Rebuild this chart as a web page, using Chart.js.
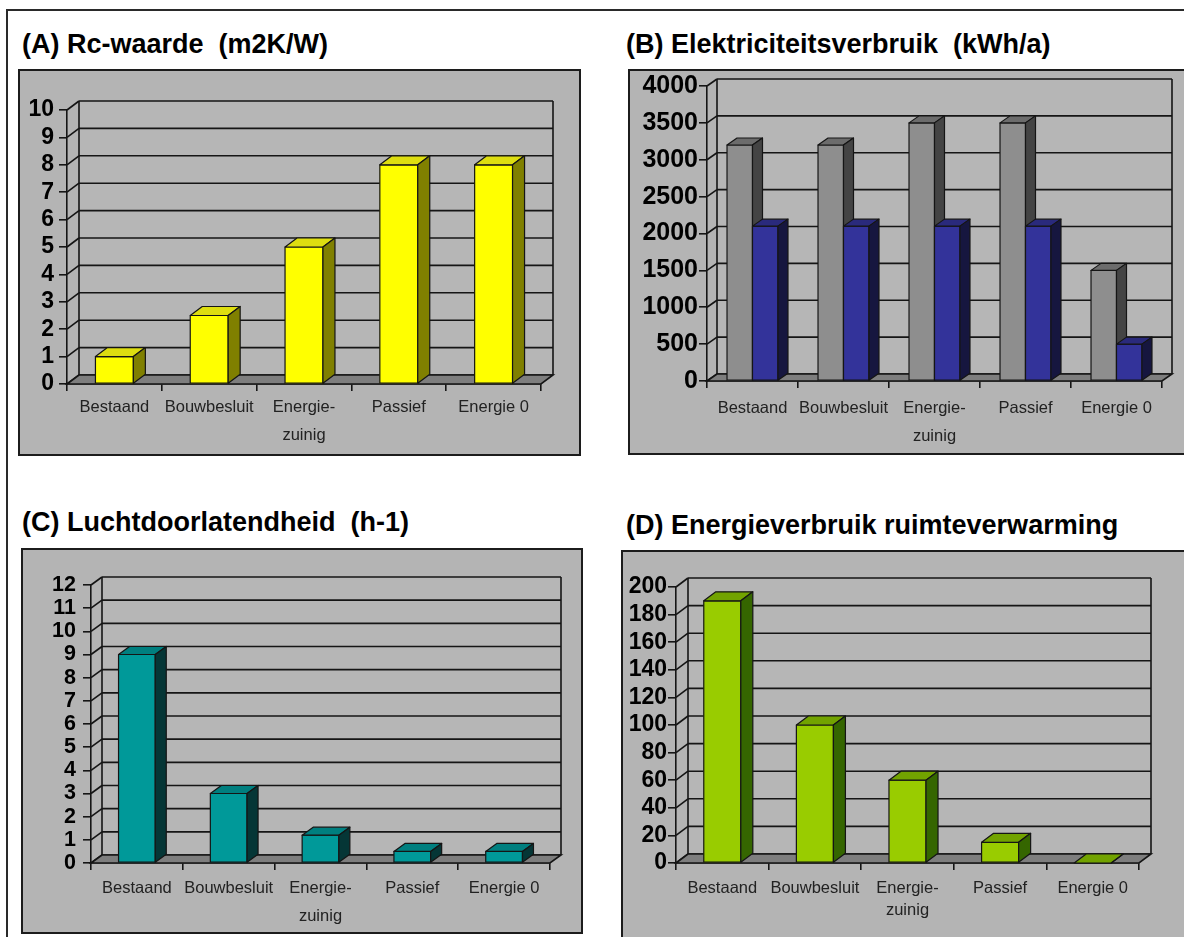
<!DOCTYPE html>
<html>
<head>
<meta charset="utf-8">
<script src="https://cdn.jsdelivr.net/npm/chart.js@4.4.1/dist/chart.umd.min.js"></script>
<style>
  html, body { margin: 0; padding: 0; background: #fff; width: 1184px; height: 937px; overflow: hidden; position: relative; }
  #frame { position: absolute; left: 6px; top: 9px; width: 1300px; height: 1000px; border-left: 2px solid #2a2a2a; border-top: 2px solid #2a2a2a; }
  .title { position: absolute; font-family: 'Liberation Sans', Arial, sans-serif; font-weight: bold; font-size: 27px; line-height: 26px; color: #000; white-space: pre; }
  .box { position: absolute; background: #b4b4b4; border: 2px solid #1c1c1c; box-sizing: border-box; }
  canvas { position: absolute; }
</style>
</head>
<body>
<div id="frame"></div>

<div class="title" style="left:22px;top:31px">(A) Rc-waarde  (m2K/W)</div>
<div class="title" style="left:626px;top:31px">(B) Elektriciteitsverbruik  (kWh/a)</div>
<div class="title" style="left:22px;top:509px">(C) Luchtdoorlatendheid  (h-1)</div>
<div class="title" style="left:626px;top:512px">(D) Energieverbruik ruimteverwarming</div>

<div class="box" style="left:18px;top:69px;width:563px;height:387px"></div>
<div class="box" style="left:628px;top:69px;width:620px;height:386px"></div>
<div class="box" style="left:21px;top:548px;width:562px;height:386px"></div>
<div class="box" style="left:621px;top:550px;width:620px;height:420px"></div>

<canvas id="chartA" width="563" height="387" style="left:18px;top:69px"></canvas>
<canvas id="chartB" width="600" height="386" style="left:628px;top:69px"></canvas>
<canvas id="chartC" width="562" height="386" style="left:21px;top:548px"></canvas>
<canvas id="chartD" width="600" height="400" style="left:621px;top:550px"></canvas>

<script>
// Building types shown along every horizontal axis
const categories = ['Bestaand', 'Bouwbesluit', ['Energie-', 'zuinig'], 'Passief', 'Energie 0'];

// (A) Rc-waarde, m2K/W
const rcWaarde = [1, 2.5, 5, 8, 8];
const rcTicks = [0, 1, 2, 3, 4, 5, 6, 7, 8, 9, 10];

// (B) Elektriciteitsverbruik, kWh/a (two series)
const elektriciteitGrijs = [3200, 3200, 3500, 3500, 1500];
const elektriciteitBlauw = [2100, 2100, 2100, 2100, 500];
const elektriciteitTicks = [0, 500, 1000, 1500, 2000, 2500, 3000, 3500, 4000];

// (C) Luchtdoorlatendheid, h-1
const luchtdoorlatendheid = [9, 3, 1.2, 0.5, 0.5];
const luchtTicks = [0, 1, 2, 3, 4, 5, 6, 7, 8, 9, 10, 11, 12];

// (D) Energieverbruik ruimteverwarming
const ruimteverwarming = [190, 100, 60, 15, 0];
const verwarmingTicks = [0, 20, 40, 60, 80, 100, 120, 140, 160, 180, 200];

const FONT = "'Liberation Sans', Arial, sans-serif";
const INK = '#151515';

// Draws the pseudo-3D box: back wall with gridlines, side-wall diagonals, floor,
// and then the top and side faces of every bar (front faces come from the bar elements).
const box3d = {
  id: 'box3d',
  beforeDatasetsDraw(chart, args, o) {
    const { ctx, chartArea: a, scales: { y } } = chart;
    const dx = o.dx, dy = o.dy;
    ctx.save();
    ctx.strokeStyle = INK;
    ctx.lineWidth = 1.6;
    ctx.fillStyle = o.wall;
    ctx.fillRect(a.left + dx, a.top - dy, a.right - a.left, a.bottom - a.top);
    const seg = (x1, y1, x2, y2) => { ctx.beginPath(); ctx.moveTo(x1, y1); ctx.lineTo(x2, y2); ctx.stroke(); };
    y.ticks.forEach(t => {
      const py = y.getPixelForValue(t.value);
      seg(a.left + dx, py - dy, a.right + dx, py - dy);
      seg(a.left, py, a.left + dx, py - dy);
    });
    seg(a.left + dx, a.top - dy, a.left + dx, a.bottom - dy);
    seg(a.right + dx, a.top - dy, a.right + dx, a.bottom - dy);
    // floor
    ctx.beginPath();
    ctx.moveTo(a.left, a.bottom);
    ctx.lineTo(a.right, a.bottom);
    ctx.lineTo(a.right + dx, a.bottom - dy);
    ctx.lineTo(a.left + dx, a.bottom - dy);
    ctx.closePath();
    ctx.fillStyle = o.floor;
    ctx.fill();
    ctx.stroke();
    ctx.restore();
  },
  afterDatasetsDraw(chart, args, o) {
    const { ctx } = chart;
    const dx = o.dx, dy = o.dy;
    const n = chart.data.labels.length;
    ctx.save();
    ctx.strokeStyle = INK;
    ctx.lineWidth = 1.2;
    ctx.lineJoin = 'round';
    const poly = (pts, fill) => {
      ctx.beginPath();
      ctx.moveTo(pts[0][0], pts[0][1]);
      for (let k = 1; k < pts.length; k++) ctx.lineTo(pts[k][0], pts[k][1]);
      ctx.closePath();
      ctx.fillStyle = fill;
      ctx.fill();
      ctx.stroke();
    };
    for (let i = 0; i < n; i++) {
      chart.data.datasets.forEach((ds, di) => {
        const el = chart.getDatasetMeta(di).data[i];
        const { x, y, base, width } = el.getProps(['x', 'y', 'base', 'width'], true);
        const L = x - width / 2, R = x + width / 2;
        const f = o.faces[di];
        if (base - y > 0.5) poly([[L, y], [R, y], [R, base], [L, base]], f.front);
        poly([[L, y], [R, y], [R + dx, y - dy], [L + dx, y - dy]], f.top);
        poly([[R, y], [R + dx, y - dy], [R + dx, base - dy], [R, base]], f.side);
      });
    }
    ctx.restore();
  }
};

function makeChart(id, spec) {
  const cv = document.getElementById(id);
  const W = cv.width, H = cv.height;
  const a = spec.area;
  const ticks = spec.ticks;
  return new Chart(cv, {
    type: 'bar',
    data: {
      labels: categories,
      datasets: spec.series.map((s, k) => ({
        data: s,
        backgroundColor: spec.faces[k].front,
        borderWidth: 0,
        categoryPercentage: spec.catPct,
        barPercentage: spec.barPct
      }))
    },
    options: {
      responsive: false,
      animation: false,
      events: [],
      layout: { padding: { left: 0, top: a.top, right: W - a.right, bottom: 0 } },
      plugins: {
        legend: { display: false },
        tooltip: { enabled: false },
        box3d: { dx: spec.dx, dy: spec.dy, wall: '#b6b6b6', floor: '#7e7e7e', faces: spec.faces }
      },
      scales: {
        x: {
          afterFit(s) { s.height = H - a.bottom; },
          grid: { display: true, drawOnChartArea: false, drawTicks: true, tickLength: 7, color: INK, lineWidth: 1.6, offset: true },
          border: { display: true, color: INK, width: 1.6 },
          ticks: {
            color: '#222', padding: spec.xPad, maxRotation: 0, autoSkip: false,
            font: { family: FONT, size: 16.5, lineHeight: spec.xLine }
          }
        },
        y: {
          min: ticks[0], max: ticks[ticks.length - 1],
          afterFit(s) { s.width = a.left; },
          afterBuildTicks(s) { s.ticks = ticks.map(v => ({ value: v })); },
          grid: { display: true, drawOnChartArea: false, drawTicks: true, tickLength: 8, color: INK, lineWidth: 1.6 },
          border: { display: true, color: INK, width: 1.6 },
          ticks: {
            color: '#000', padding: spec.yPad, autoSkip: false,
            callback: v => String(v),
            font: { family: FONT, size: spec.yFont, weight: 'bold' }
          }
        }
      }
    },
    plugins: [box3d]
  });
}

makeChart('chartA', {
  area: { left: 49, right: 523, top: 41, bottom: 315 },
  ticks: rcTicks, series: [rcWaarde], dx: 12, dy: 9,
  catPct: 1, barPct: 0.4, yFont: 23, yPad: 5, xPad: 3, xLine: 1.66,
  faces: [{ front: '#ffff00', top: '#dede10', side: '#808000' }]
});

makeChart('chartB', {
  area: { left: 79, right: 534, top: 17, bottom: 312 },
  ticks: elektriciteitTicks, series: [elektriciteitGrijs, elektriciteitBlauw], dx: 10, dy: 7,
  catPct: 0.56, barPct: 1, yFont: 25, yPad: 1, xPad: 7, xLine: 1.66,
  faces: [
    { front: '#8e8e8e', top: '#6c6c6c', side: '#444444' },
    { front: '#33339a', top: '#2a2a7c', side: '#16163f' }
  ]
});

makeChart('chartC', {
  area: { left: 70, right: 529, top: 37, bottom: 315 },
  ticks: luchtTicks, series: [luchtdoorlatendheid], dx: 11, dy: 8,
  catPct: 1, barPct: 0.4, yFont: 21.5, yPad: 7, xPad: 5, xLine: 1.66,
  faces: [{ front: '#009999', top: '#007f7f', side: '#053636' }]
});

makeChart('chartD', {
  area: { left: 55, right: 518, top: 37, bottom: 313 },
  ticks: verwarmingTicks, series: [ruimteverwarming], dx: 12, dy: 9,
  catPct: 1, barPct: 0.4, yFont: 23, yPad: 1, xPad: 8, xLine: 1.32,
  faces: [{ front: '#99cc00', top: '#72a300', side: '#356600' }]
});
</script>
</body>
</html>
